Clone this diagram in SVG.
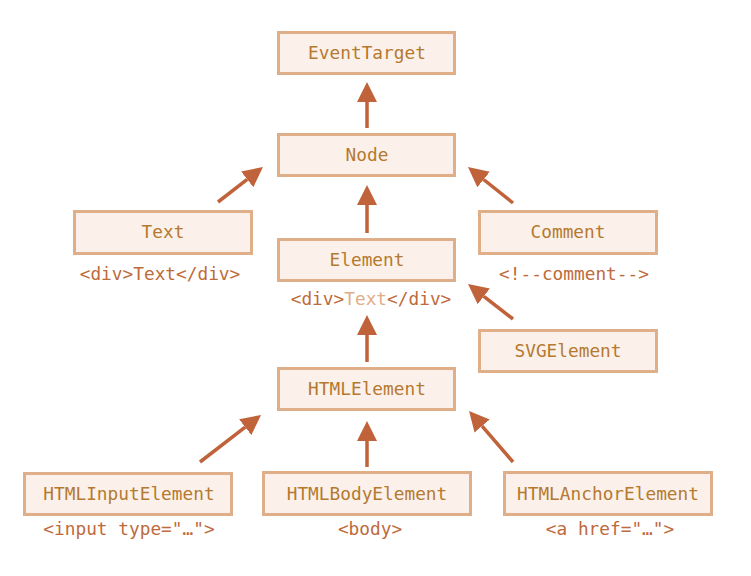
<svg xmlns="http://www.w3.org/2000/svg" width="751" height="576" viewBox="0 0 751 576">
<defs>
<style>
.box{fill:#FBF1EA;stroke:#DEAF88;stroke-width:3}
.lbl{font-family:"DejaVu Sans Mono","Liberation Mono",monospace;font-size:17.8px;fill:#B5792F;text-anchor:middle}
.sub{font-family:"DejaVu Sans Mono","Liberation Mono",monospace;font-size:17.8px;fill:#BE6A3B;text-anchor:middle}
.lite{fill:#DFAE88}
.arr{stroke:#C0633A;stroke-width:3.5;fill:none;marker-end:url(#ah)}
</style>
<marker id="ah" markerUnits="userSpaceOnUse" markerWidth="21" markerHeight="21" refX="0" refY="10" orient="auto" viewBox="0 0 21 21">
<path d="M0,0 L20,10 L0,20 z" fill="#C0633A"/>
</marker>
</defs>
<rect width="751" height="576" fill="#FFFFFF"/>
<g id="connectors">
<line class="arr" x1="367" y1="128" x2="367" y2="102"/>
<line class="arr" x1="367" y1="233" x2="367" y2="205"/>
<line class="arr" x1="367" y1="362" x2="367" y2="335"/>
<line class="arr" x1="367" y1="467" x2="367" y2="441"/>
<line class="arr" x1="218" y1="202" x2="247.2" y2="179.3"/>
<line class="arr" x1="513" y1="203" x2="483.6" y2="179.5"/>
<line class="arr" x1="513" y1="319" x2="483.8" y2="296.3"/>
<line class="arr" x1="200" y1="462" x2="245.2" y2="427.2"/>
<line class="arr" x1="513" y1="462" x2="482.1" y2="426.1"/>
</g>
<g id="EventTarget">
<rect class="box" x="278.5" y="32.5" width="176" height="41"/>
<text class="lbl" x="367" y="59">EventTarget</text>
</g>
<g id="Node">
<rect class="box" x="278.5" y="134.5" width="176" height="41"/>
<text class="lbl" x="367" y="161">Node</text>
</g>
<g id="Text">
<rect class="box" x="74.5" y="211.5" width="177" height="42"/>
<text class="lbl" x="163" y="238">Text</text>
<text class="sub" x="160" y="280">&lt;div&gt;Text&lt;/div&gt;</text>
</g>
<g id="Element">
<rect class="box" x="278.5" y="239.5" width="176" height="41"/>
<text class="lbl" x="367" y="266">Element</text>
<text class="sub" x="371" y="305">&lt;div&gt;<tspan class="lite">Text</tspan>&lt;/div&gt;</text>
</g>
<g id="Comment">
<rect class="box" x="479.5" y="211.5" width="177" height="42"/>
<text class="lbl" x="568" y="238">Comment</text>
<text class="sub" x="574" y="279.5">&lt;!--comment--&gt;</text>
</g>
<g id="SVGElement">
<rect class="box" x="479.5" y="330.5" width="177" height="41"/>
<text class="lbl" x="568" y="357">SVGElement</text>
</g>
<g id="HTMLElement">
<rect class="box" x="278.5" y="368.5" width="176" height="41"/>
<text class="lbl" x="367" y="395">HTMLElement</text>
</g>
<g id="HTMLInputElement">
<rect class="box" x="24.5" y="473.5" width="207" height="41"/>
<text class="lbl" x="129" y="499.5">HTMLInputElement</text>
<text class="sub" x="129" y="535">&lt;input type="…"&gt;</text>
</g>
<g id="HTMLBodyElement">
<rect class="box" x="263.5" y="472.5" width="207" height="42"/>
<text class="lbl" x="367" y="499.5">HTMLBodyElement</text>
<text class="sub" x="370" y="535">&lt;body&gt;</text>
</g>
<g id="HTMLAnchorElement">
<rect class="box" x="504.5" y="472.5" width="207" height="42"/>
<text class="lbl" x="608" y="499.5">HTMLAnchorElement</text>
<text class="sub" x="610" y="535">&lt;a href="…"&gt;</text>
</g>
</svg>
